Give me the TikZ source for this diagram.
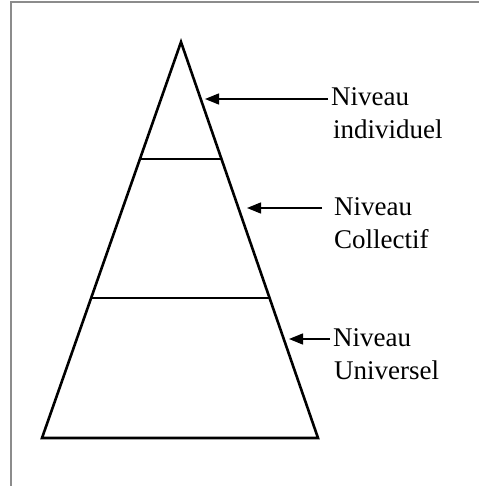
\documentclass[tikz,border=0pt]{standalone}
\usepackage{fontspec}
\setmainfont{Liberation Serif}
\usetikzlibrary{arrows.meta}
\begin{document}
\begin{tikzpicture}[x=1pt,y=1pt,
  frameline/.style={draw=black!45,line width=1.5pt},
  pyr/.style={draw=black,line width=2.6pt,line join=miter},
  divline/.style={draw=black,line width=2.4pt},
  pointer/.style={draw=black,line width=1.4pt,-{Triangle[length=14pt,width=11pt]}},
  lab/.style={font=\fontsize{27}{32}\selectfont,inner xsep=0pt,inner ysep=0pt,anchor=base west}]
\useasboundingbox (0,0) rectangle (479,-486);
% frame
\draw[frameline] (11,-486) -- (11,-2) -- (479,-2);
% pyramid
\coordinate (apex) at (181,-42);
\coordinate (bl) at (42,-438);
\coordinate (br) at (318,-438);
\draw[pyr] (apex) -- (br) -- (bl) -- cycle;
\coordinate (l1) at (140,-159);
\coordinate (r1) at (222,-159);
\coordinate (l2) at (91,-298);
\coordinate (r2) at (270,-298);
\draw[divline] (l1) -- (r1);
\draw[divline] (l2) -- (r2);
% labels
\node[lab] (n1) at (331,-106) {Niveau};
\node[lab] (i1) at (333,-139) {individuel};
\node[lab] (n2) at (334,-215) {Niveau};
\node[lab] (c2) at (334,-248) {Collectif};
\node[lab] (n3) at (333,-346) {Niveau};
\node[lab] (u3) at (334,-379) {Universel};
% arrow tips
\coordinate (t1) at (205,-99);
\coordinate (t2) at (247,-208);
\coordinate (t3) at (289,-339);
\draw[pointer] ([xshift=-3pt]n1.west |- t1) -- (t1);
\draw[pointer] ([xshift=-12pt]n2.west |- t2) -- (t2);
\draw[pointer] ([xshift=-3pt]n3.west |- t3) -- (t3);
\end{tikzpicture}
\end{document}
